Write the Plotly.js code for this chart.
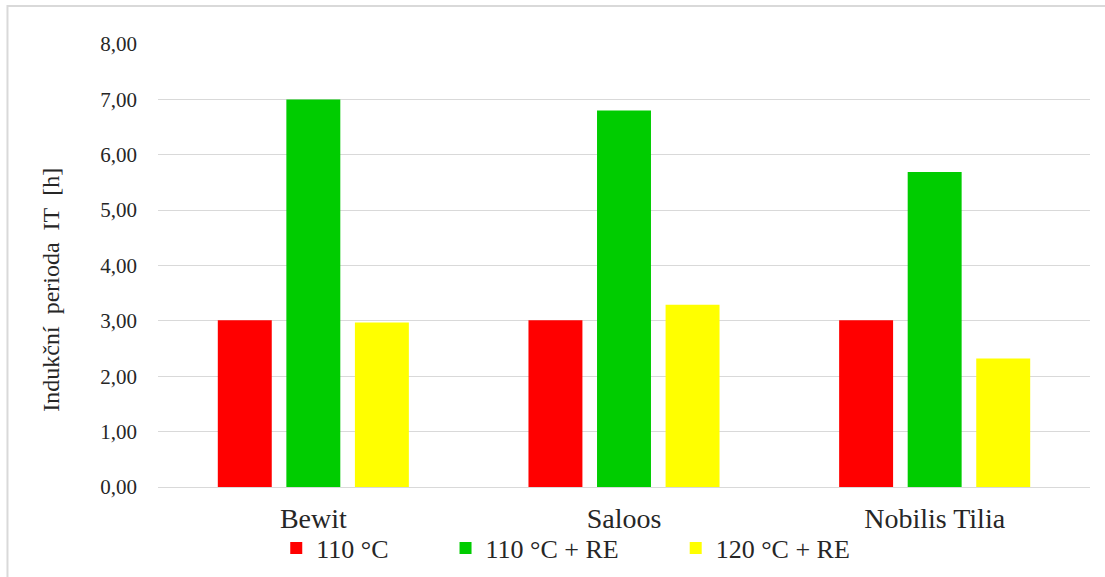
<!DOCTYPE html>
<html>
<head>
<meta charset="utf-8">
<script src="https://cdn.plot.ly/plotly-3.0.1.min.js"></script>
<style>html,body{margin:0;padding:0;background:#fff;}#chart{width:1105px;height:577px;}</style>
</head>
<body>
<div id="chart"></div>
<script>
const categories = ["Bewit", "Saloos", "Nobilis Tilia"];
const seriesNames = ["110 °C", "110 °C + RE", "120 °C + RE"];
const values110 = [3.01, 3.01, 3.01];
const values110RE = [7.00, 6.80, 5.69];
const values120RE = [2.97, 3.29, 2.32];
const yTickVals = [0, 1, 2, 3, 4, 5, 6, 7, 8];
const yTickText = ["0,00", "1,00", "2,00", "3,00", "4,00", "5,00", "6,00", "7,00", "8,00"];
const yTitle = "Indukční\u00a0\u00a0perioda\u00a0\u00a0IT\u00a0\u00a0[h]";

const colors = ["#ff0000", "#00cc00", "#ffff00"];
const pad = "\u00a0".repeat(8);
const allValues = [values110, values110RE, values120RE];

const traces = allValues.map((v, i) => ({
  type: "bar",
  x: categories,
  y: v,
  name: seriesNames[i] + (i < 2 ? pad : ""),
  marker: {color: colors[i], line: {width: 0}},
  hoverinfo: "x+y+name"
}));

const F = "Liberation Serif";
const layout = {
  width: 1105,
  height: 577,
  margin: {l: 158, r: 15, t: 44, b: 90, autoexpand: false},
  paper_bgcolor: "#ffffff",
  plot_bgcolor: "#ffffff",
  barmode: "group",
  bargap: 0.338,
  bargroupgap: 0.213,
  font: {family: F, color: "#262626"},
  showlegend: true,
  legend: {
    orientation: "h",
    xref: "container", yref: "container",
    x: 0.25, xanchor: "left",
    y: 0.05, yanchor: "middle",
    font: {family: F, size: 26, color: "#262626"},
    bgcolor: "rgba(0,0,0,0)",
    itemclick: false
  },
  xaxis: {
    type: "category",
    automargin: false,
    showgrid: false,
    showline: true,
    linecolor: "#d9d9d9",
    linewidth: 1,
    ticks: "",
    tickfont: {family: F, size: 28, color: "#262626"},
    ticklabelstandoff: 6,
    zeroline: false,
    fixedrange: true
  },
  yaxis: {
    range: [0, 8],
    automargin: false,
    tickvals: yTickVals,
    ticktext: yTickText,
    showgrid: true,
    gridcolor: "#d9d9d9",
    gridwidth: 1,
    zeroline: false,
    showline: false,
    ticks: "",
    tickfont: {family: F, size: 21, color: "#262626"},
    ticklabelstandoff: 20,
    fixedrange: true
  },
  annotations: [{
    text: yTitle,
    xref: "paper", yref: "paper",
    x: -0.115, y: 0.445,
    xanchor: "center", yanchor: "middle",
    textangle: -90,
    showarrow: false,
    font: {family: F, size: 24, color: "#262626"}
  }],
  shapes: [{
    type: "rect",
    xref: "paper", yref: "paper",
    x0: -0.1615, x1: 1.2,
    y0: -0.4, y1: 1.0857,
    line: {color: "#d9d9d9", width: 2},
    fillcolor: "rgba(0,0,0,0)",
    layer: "below"
  }]
};

Plotly.newPlot("chart", traces, layout, {displayModeBar: false});
</script>
</body>
</html>
